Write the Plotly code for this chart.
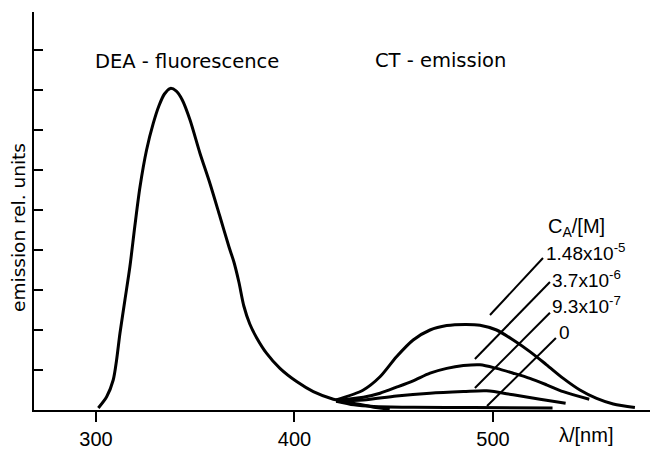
import plotly.graph_objects as go

# ---- data ----
dea_wl = [301.2, 305.4, 308.7, 310.4, 312.1, 314.6, 317.1, 319.6, 322.2, 325.5, 328.9, 331.7, 334.5,
          337.5, 340.5, 343.5, 347.4, 352.4, 357.4, 362.5, 367.0, 369.5, 372.0, 374.5, 377.5, 381.0,
          385.9, 392.7, 401.1, 409.5, 419.6, 429.7, 440.0, 448.0]
dea_val = [0.05, 0.33, 0.75, 1.25, 1.92, 2.75, 3.58, 4.6, 5.58, 6.5, 7.17, 7.6, 7.9,
           8.04, 7.97, 7.75, 7.25, 6.42, 5.67, 4.83, 4.08, 3.7, 3.2, 2.6, 2.15, 1.8,
           1.42, 1.04, 0.71, 0.46, 0.27, 0.17, 0.07, 0.02]

ct1_wl = [421.0, 434.7, 443.1, 451.4, 459.8, 468.3, 476.7, 486.0, 493.5, 501.8, 510.2, 518.6, 527.0,
          535.4, 543.8, 552.2, 560.6, 571.5]
ct1_val = [0.25, 0.5, 0.83, 1.33, 1.75, 2.0, 2.11, 2.14, 2.12, 2.0, 1.75, 1.46, 1.13,
           0.79, 0.5, 0.29, 0.15, 0.06]

ct2_wl = [421.0, 434.7, 443.1, 451.4, 459.8, 468.3, 476.7, 485.1, 493.5, 501.8, 510.2, 518.6, 527.0,
          535.4, 548.5]
ct2_val = [0.24, 0.32, 0.42, 0.57, 0.73, 0.92, 1.04, 1.11, 1.13, 1.04, 0.92, 0.79, 0.63,
           0.46, 0.27]

ct3_wl = [421.0, 434.7, 451.4, 468.3, 485.1, 496.8, 510.2, 523.7, 536.6]
ct3_val = [0.22, 0.25, 0.35, 0.42, 0.46, 0.48, 0.38, 0.27, 0.17]

ct0_wl = [421.0, 430.0, 440.0, 460.0, 490.0, 530.0]
ct0_val = [0.22, 0.13, 0.09, 0.07, 0.06, 0.05]

conc_labels = ["1.48x10<sup>-5</sup>", "3.7x10<sup>-6</sup>", "9.3x10<sup>-7</sup>", "0"]
x_ticks = [300, 400, 500]
y_ticks = [1, 2, 3, 4, 5, 6, 7, 8, 9]

# ---- figure ----
fig = go.Figure()
line_style = dict(color="black", width=3, shape="spline", smoothing=0.8)
for wl, val in [(dea_wl, dea_val), (ct1_wl, ct1_val), (ct2_wl, ct2_val), (ct3_wl, ct3_val), (ct0_wl, ct0_val)]:
    fig.add_trace(go.Scatter(x=wl, y=val, mode="lines", line=line_style, showlegend=False,
                             hoverinfo="skip", cliponaxis=False))

# leader lines from curves to concentration labels
leaders = [((498.5, 2.375), (525.2, 3.8)),
           ((490.9, 1.275), (528.7, 3.2)),
           ((490.9, 0.55), (528.7, 2.43)),
           ((497.0, 0.1), (531.7, 1.8))]
for (x0, y0), (x1, y1) in leaders:
    fig.add_shape(type="line", xref="x", yref="y", x0=x0, y0=y0, x1=x1, y1=y1,
                  line=dict(color="black", width=2))

txt_font = dict(family="DejaVu Sans", size=19.5, color="black")
lab_font = dict(family="Liberation Sans", size=19, color="black")

annotations = [
    dict(x=345.8, y=8.725, text="DEA - fluorescence", font=txt_font, xanchor="center", yanchor="middle"),
    dict(x=473.8, y=8.75, text="CT - emission", font=txt_font, xanchor="center", yanchor="middle"),
    dict(x=526.7, y=4.575, text="C<sub>A</sub>/[M]", font=dict(family="Liberation Sans", size=20, color="black"),
         xanchor="left", yanchor="middle"),
]
label_pos = [(525.8, 3.95), (528.6, 3.27), (528.6, 2.62), (532.2, 1.93)]
for (lx, ly), t in zip(label_pos, conc_labels):
    annotations.append(dict(x=lx, y=ly, text=t, font=lab_font, xanchor="left", yanchor="middle"))
for a in annotations:
    a.update(xref="x", yref="y", showarrow=False)

annotations.append(dict(x=0.896, y=-0.063, xref="paper", yref="paper", text="λ/[nm]",
                        font=dict(family="Liberation Sans", size=20, color="black"),
                        showarrow=False, xanchor="center", yanchor="middle"))
annotations.append(dict(x=-0.0244, y=0.46, xref="paper", yref="paper", text="emission rel. units",
                        font=dict(family="DejaVu Sans", size=18.5, color="black"), textangle=-90,
                        showarrow=False, xanchor="center", yanchor="middle"))

fig.update_layout(
    width=650, height=450,
    margin=dict(l=34, r=0, t=12, b=40),
    paper_bgcolor="white", plot_bgcolor="white",
    annotations=annotations,
    xaxis=dict(range=[268.8, 579.1], showgrid=False, zeroline=False, showline=True,
               linecolor="black", linewidth=2, ticks="outside", tickvals=x_ticks,
               ticklen=10, tickwidth=2, tickcolor="black",
               tickfont=dict(family="Liberation Sans", size=20, color="black")),
    yaxis=dict(range=[0, 9.95], showgrid=False, zeroline=False, showline=True,
               linecolor="black", linewidth=2, ticks="inside", tickvals=y_ticks,
               ticklen=9, tickwidth=2, tickcolor="black", showticklabels=False),
)

fig.write_html("out.html", config={"displayModeBar": False},
               post_script="document.body.style.margin='0px';")
